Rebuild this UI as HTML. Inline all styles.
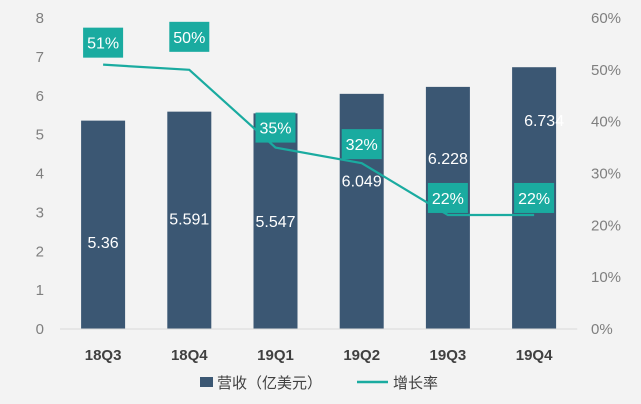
<!DOCTYPE html>
<html><head><meta charset="utf-8"><style>
body{margin:0;background:#f3f3f3;}
svg{display:block;font-family:"Liberation Sans","Noto Sans CJK SC",sans-serif;}
</style></head><body>
<svg id="chart" width="641" height="404" viewBox="0 0 641 404" xmlns="http://www.w3.org/2000/svg">
<rect width="641" height="404" fill="#f3f3f3"/>
<g id="g"></g>
</svg>
<script>
const categories=["18Q3","18Q4","19Q1","19Q2","19Q3","19Q4"];
const revenue=[5.36,5.591,5.547,6.049,6.228,6.734];
const growth=[51,50,35,32,22,22];
const leftTicks=[0,1,2,3,4,5,6,7,8];
const rightTicks=[0,10,20,30,40,50,60];
const revLabelOffset=[17,-2,0,-31,-50,-78];
const NS="http://www.w3.org/2000/svg";
const g=document.getElementById('g');
const x0=60,band=86.2,y0=329,yTop=18;
const yL=v=>y0-(v/8)*(y0-yTop);
const yR=v=>y0-(v/60)*(y0-yTop);
const xC=i=>x0+band*(i+0.5);
function mk(t,a,txt){const e=document.createElementNS(NS,t);for(const k in a)e.setAttribute(k,a[k]);if(txt!==undefined)e.textContent=txt;g.appendChild(e);return e;}
leftTicks.forEach(v=>{const e=mk('text',{x:44,y:yL(v)+5,'text-anchor':'end','font-size':15,fill:'#7f7f7f'},v);

});
rightTicks.forEach(v=>{const e=mk('text',{x:591,y:yR(v)+5,'font-size':15,fill:'#7f7f7f'},v+'%');

});
revenue.forEach((v,i)=>{const b=mk('rect',{x:xC(i)-22,y:yL(v),width:44,height:y0-yL(v),fill:'#3b5773'});


const t=mk('text',{x:xC(i)+(i==5?10:0),y:(yL(v)+y0)/2+revLabelOffset[i]+6,'text-anchor':'middle','font-size':16,fill:'#fff'},String(v));


const c=mk('text',{x:xC(i),y:y0+31,'text-anchor':'middle','font-size':15,'font-weight':'bold',fill:'#404040'},categories[i]);

});
const ax=mk('line',{x1:x0,x2:x0+band*6,y1:y0,y2:y0,stroke:'#d9d9d9','stroke-width':1});


const pl=mk('polyline',{points:growth.map((v,i)=>xC(i)+','+yR(v)).join(' '),fill:'none',stroke:'#1aaba0','stroke-width':2.2});


const boxOff=[-37,-48,-35,-34,-32,-32];
growth.forEach((v,i)=>{const by=yR(v)+boxOff[i];
const r=mk('rect',{x:xC(i)-20,y:by,width:40,height:30,fill:'#1aaba0'});


const t=mk('text',{x:xC(i),y:by+21,'text-anchor':'middle','font-size':16,fill:'#fff'},v+'%');

});
const l1=mk('rect',{x:200,y:377,width:13,height:10,fill:'#3b5773'});


const l2=mk('text',{x:217,y:388,'font-size':15,fill:'#404040'},'营收（亿美元）');


const l3=mk('line',{x1:357,x2:388,y1:382,y2:382,stroke:'#1aaba0','stroke-width':2.5});


const l4=mk('text',{x:393,y:388,'font-size':15,fill:'#404040'},'增长率');


</script>
</body></html>
